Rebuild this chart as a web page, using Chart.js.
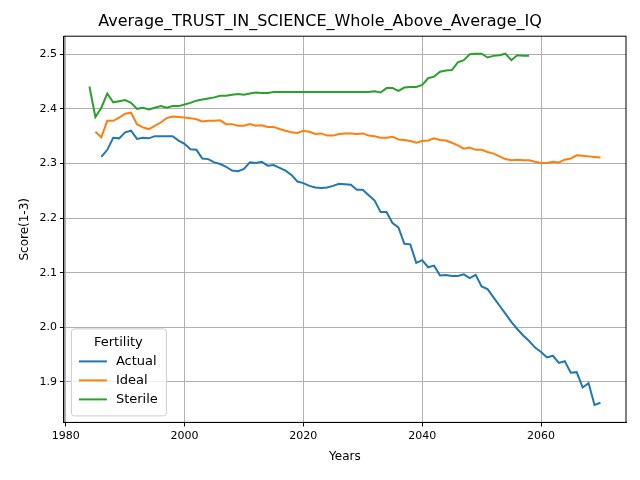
<!DOCTYPE html>
<html>
<head>
<script src="https://cdn.jsdelivr.net/npm/chart.js@4"></script>
<style>body{margin:0;background:#fff}#wrap{width:640px;height:480px}</style>
</head>
<body>
<div id="wrap"><canvas id="c"></canvas></div>
<script>
const actualStart = 1986;
const actual = [2.312,2.325,2.347,2.346,2.357,2.360,2.345,2.347,2.346,2.350,2.350,2.350,2.350,2.342,2.336,2.326,2.325,2.309,2.308,2.302,2.299,2.294,2.287,2.286,2.290,2.302,2.301,2.303,2.296,2.297,2.292,2.287,2.279,2.267,2.264,2.259,2.256,2.255,2.256,2.259,2.263,2.262,2.261,2.252,2.252,2.242,2.232,2.211,2.211,2.191,2.183,2.153,2.152,2.118,2.123,2.110,2.113,2.095,2.096,2.094,2.094,2.097,2.090,2.096,2.075,2.070,2.055,2.040,2.025,2.010,1.997,1.985,1.975,1.963,1.955,1.945,1.948,1.935,1.938,1.917,1.918,1.890,1.898,1.858,1.862];
const idealStart = 1985;
const ideal = [2.358,2.348,2.378,2.378,2.384,2.391,2.393,2.372,2.366,2.363,2.369,2.375,2.383,2.386,2.385,2.384,2.383,2.381,2.377,2.378,2.378,2.379,2.372,2.372,2.369,2.369,2.372,2.369,2.370,2.367,2.367,2.363,2.360,2.357,2.356,2.360,2.358,2.354,2.355,2.351,2.351,2.354,2.355,2.355,2.354,2.355,2.351,2.350,2.347,2.347,2.349,2.344,2.343,2.341,2.338,2.341,2.342,2.346,2.343,2.342,2.338,2.333,2.327,2.329,2.325,2.325,2.321,2.318,2.313,2.308,2.306,2.307,2.306,2.306,2.303,2.301,2.301,2.303,2.302,2.307,2.309,2.315,2.314,2.313,2.312,2.311];
const sterileStart = 1984;
const sterile = [2.441,2.385,2.402,2.428,2.412,2.414,2.416,2.411,2.400,2.402,2.399,2.402,2.405,2.402,2.405,2.405,2.408,2.411,2.415,2.417,2.419,2.421,2.424,2.424,2.426,2.427,2.426,2.428,2.430,2.429,2.429,2.431,2.431,2.431,2.431,2.431,2.431,2.431,2.431,2.431,2.431,2.431,2.431,2.431,2.431,2.431,2.431,2.431,2.432,2.430,2.438,2.438,2.433,2.439,2.440,2.440,2.444,2.456,2.459,2.468,2.470,2.471,2.485,2.489,2.500,2.501,2.501,2.494,2.497,2.498,2.501,2.489,2.498,2.497,2.497];

const toPoints = (start, vals) => vals.map((v, i) => ({ x: start + i, y: v }));
const series = [
  { label: 'Actual', start: actualStart, values: actual, color: '#1f77b4' },
  { label: 'Ideal', start: idealStart, values: ideal, color: '#ff7f0e' },
  { label: 'Sterile', start: sterileStart, values: sterile, color: '#2ca02c' }
];

// frame round the plot and legend inside it, bottom-left, like matplotlib
const boxLegend = {
  id: 'boxLegend',
  afterDraw(chart) {
    const ctx = chart.ctx, a = chart.chartArea;
    ctx.save();
    ctx.strokeStyle = '#000';
    ctx.lineWidth = 1;
    ctx.strokeRect(a.left, a.top, a.right - a.left, a.bottom - a.top);

    const x = a.left + 7, w = 95, h = 87, y = a.bottom - 7 - h;
    ctx.fillStyle = 'rgba(255,255,255,0.8)';
    ctx.strokeStyle = '#ccc';
    ctx.beginPath();
    ctx.roundRect(x + 0.5, y + 0.5, w, h, 3);
    ctx.fill(); ctx.stroke();
    ctx.fillStyle = '#000';
    ctx.font = '13px "DejaVu Sans"';
    ctx.textBaseline = 'middle';
    ctx.textAlign = 'center';
    ctx.fillText('Fertility', x + w / 2, y + 14);
    ctx.textAlign = 'left';
    series.forEach((s, i) => {
      const ly = y + 33 + i * 19;
      ctx.strokeStyle = s.color;
      ctx.lineWidth = 2;
      ctx.beginPath(); ctx.moveTo(x + 8, ly); ctx.lineTo(x + 36, ly); ctx.stroke();
      ctx.fillText(s.label, x + 45, ly);
    });
    ctx.restore();
  }
};

new Chart(document.getElementById('c'), {
  type: 'line',
  data: {
    datasets: series.map(s => ({
      label: s.label,
      data: toPoints(s.start, s.values),
      borderColor: s.color,
      borderWidth: 2,
      pointRadius: 0,
      tension: 0,
      fill: false
    }))
  },
  options: {
    responsive: true,
    maintainAspectRatio: false,
    animation: false,
    layout: { padding: { left: 14, right: 14, top: 4, bottom: 12 } },
    plugins: {
      legend: { display: false },
      tooltip: { enabled: false },
      title: {
        display: true,
        text: 'Average_TRUST_IN_SCIENCE_Whole_Above_Average_IQ',
        color: '#000',
        font: { family: 'DejaVu Sans', size: 16, weight: 'normal' },
        padding: { top: 8, bottom: 5 }
      }
    },
    scales: {
      x: {
        type: 'linear',
        min: 1979.7,
        max: 2074.3,
        afterBuildTicks: axis => { axis.ticks = [1980, 2000, 2020, 2040, 2060].map(v => ({ value: v })); },
        ticks: { color: '#000', font: { family: 'DejaVu Sans', size: 11 }, callback: v => String(v) },
        grid: { color: '#b0b0b0', tickColor: '#000', tickLength: 4 },
        border: { color: '#000' },
        title: { display: true, text: 'Years', color: '#000', font: { family: 'DejaVu Sans', size: 12 } }
      },
      y: {
        min: 1.826,
        max: 2.533,
        afterBuildTicks: axis => { axis.ticks = [1.9, 2.0, 2.1, 2.2, 2.3, 2.4, 2.5].map(v => ({ value: v })); },
        ticks: { color: '#000', font: { family: 'DejaVu Sans', size: 11 }, callback: v => v.toFixed(1) },
        grid: { color: '#b0b0b0', tickColor: '#000', tickLength: 4 },
        border: { color: '#000' },
        title: { display: true, text: 'Score(1-3)', color: '#000', font: { family: 'DejaVu Sans', size: 12 } }
      }
    }
  },
  plugins: [boxLegend]
});
</script>
</body>
</html>
